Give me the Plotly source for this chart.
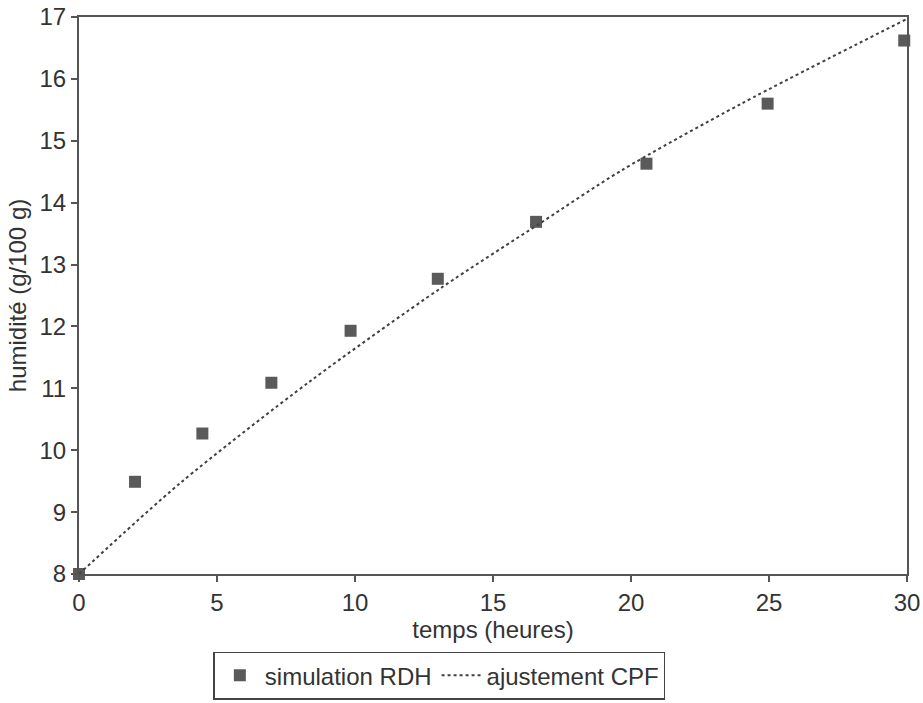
import plotly.graph_objects as go

# simulation RDH points
sim_t = [0, 2.03, 4.47, 6.97, 9.84, 13.0, 16.56, 20.56, 24.95, 29.9]
sim_h = [8.0, 9.49, 10.27, 11.09, 11.93, 12.77, 13.69, 14.63, 15.60, 16.62]

# ajustement CPF curve
fit_t = [0, 3.67, 8.39, 13.11, 16.75, 19.65, 24.0, 30]
fit_h = [8.0, 9.47, 11.12, 12.62, 13.68, 14.52, 15.60, 16.97]

x_ticks = [0, 5, 10, 15, 20, 25, 30]
y_ticks = [8, 9, 10, 11, 12, 13, 14, 15, 16, 17]

axis_col = "#555555"
txt_col = "#333333"
font_fam = "Liberation Sans, Arial, sans-serif"

fig = go.Figure()
fig.add_trace(go.Scatter(
    x=sim_t, y=sim_h, mode="markers", name="simulation RDH",
    marker=dict(symbol="square", size=12, color="#5a5a5a"),
    cliponaxis=False,
))
fig.add_trace(go.Scatter(
    x=fit_t, y=fit_h, mode="lines", name="ajustement CPF",
    line=dict(color="#404040", width=2, dash="3px,3px", shape="spline", smoothing=0.8),
))

fig.update_layout(
    width=923, height=703,
    margin=dict(l=79, r=16, t=17, b=129),
    paper_bgcolor="white", plot_bgcolor="white",
    font=dict(family=font_fam, color=txt_col, size=24),
    showlegend=True,
    legend=dict(
        orientation="h", xref="container", x=0.476, xanchor="center",
        yref="container", y=0.073, yanchor="top",
        bordercolor="#444444", borderwidth=1.5, bgcolor="white",
        font=dict(size=24, color=txt_col), itemwidth=40,
        tracegroupgap=0,
    ),
    xaxis=dict(
        range=[0, 30], tickvals=x_ticks, showgrid=False, zeroline=False,
        showline=True, linecolor=axis_col, linewidth=2, mirror=True,
        ticks="outside", ticklen=6, tickwidth=2, tickcolor=axis_col,
        tickfont=dict(size=24, color=txt_col), automargin=False,
        title=dict(text="temps (heures)", font=dict(size=24, color=txt_col), standoff=6),
    ),
    yaxis=dict(
        range=[8, 17], tickvals=y_ticks, showgrid=False, zeroline=False,
        showline=True, linecolor=axis_col, linewidth=2, mirror=True,
        ticks="outside", ticklen=6, tickwidth=2, tickcolor=axis_col,
        tickfont=dict(size=24, color=txt_col), automargin=False,
        title=dict(text="humidité (g/100 g)", font=dict(size=24, color=txt_col), standoff=6),
    ),
)

fig.write_html(
    "out.html",
    config={"displayModeBar": False},
    post_script="document.body.style.margin='0';",
)
